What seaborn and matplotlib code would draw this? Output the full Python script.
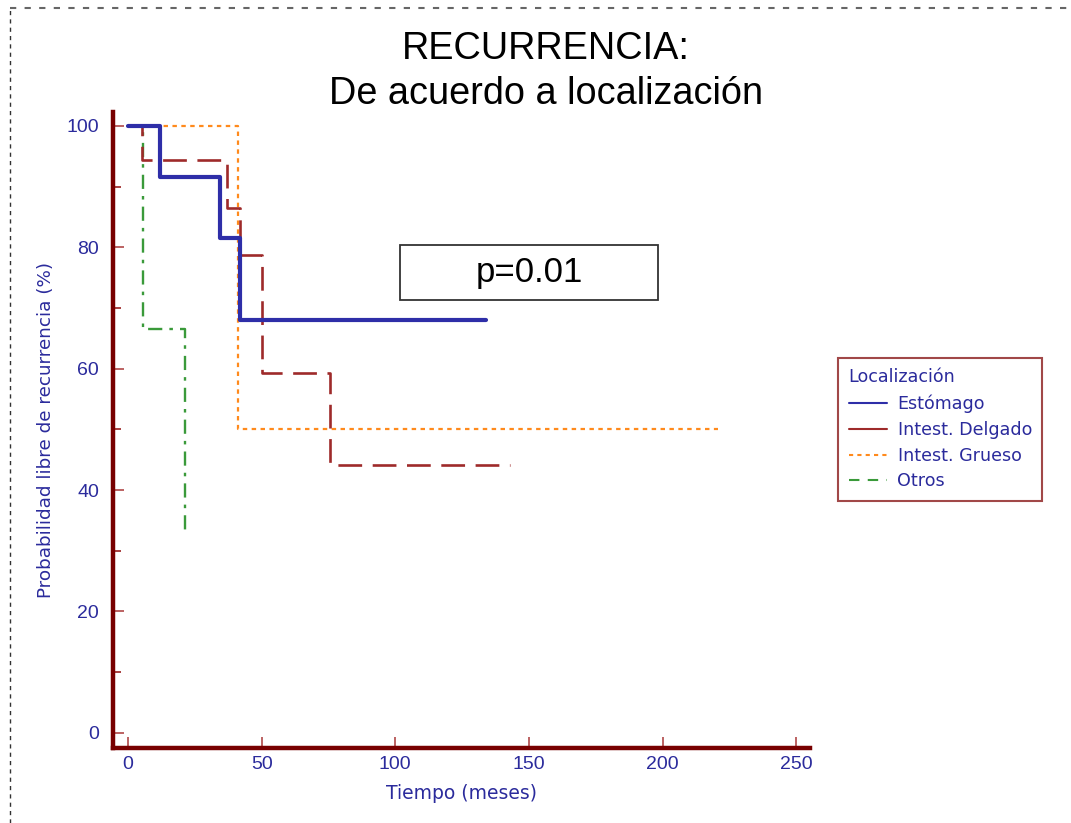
import numpy as np
import pandas as pd
import seaborn as sns
import matplotlib.pyplot as plt
from matplotlib.lines import Line2D
from matplotlib.patches import Rectangle
from matplotlib.ticker import MultipleLocator

# Datos (curvas de Kaplan-Meier, puntos de cambio)
estomago_t = [0, 12, 34.4, 42, 134]
estomago_s = [100, 91.5, 81.5, 68, 68]

delgado_t = [0, 5.2, 37, 42, 50, 75.5, 143]
delgado_s = [100, 94.4, 86.5, 78.7, 59.2, 44.2, 44.2]

grueso_t = [0, 41, 220.6]
grueso_s = [100, 50, 50]

otros_t = [0, 5.6, 21.3]
otros_s = [100, 66.5, 33.3]

grupos = ["Estómago", "Intest. Delgado", "Intest. Grueso", "Otros"]
x_ticks = [0, 50, 100, 150, 200, 250]
y_ticks = [0, 20, 40, 60, 80, 100]
p_valor = "p=0.01"

# Estilos
estilos = {
    "Estómago": dict(color="#2e2ea8", linestyle="-", linewidth=3.0),
    "Intest. Delgado": dict(color="#9e2a2a", linestyle=(0, (9, 4)), linewidth=1.9),
    "Intest. Grueso": dict(color="#ff8a1c", linestyle=(0, (2, 2)), linewidth=1.6),
    "Otros": dict(color="#3a9a3a", linestyle=(0, (6, 3, 1.5, 3)), linewidth=1.7),
}
leyenda_ls = {
    "Estómago": "-",
    "Intest. Delgado": "-",
    "Intest. Grueso": (0, (2, 2)),
    "Otros": (0, (5, 4)),
}

datos = {
    "Estómago": (estomago_t, estomago_s),
    "Intest. Delgado": (delgado_t, delgado_s),
    "Intest. Grueso": (grueso_t, grueso_s),
    "Otros": (otros_t, otros_s),
}

sns.set_style("white")
plt.rcParams['font.family'] = ['Liberation Sans', 'DejaVu Sans']

azul = "#2b2b9c"
rojo_eje = "#780000"

fig = plt.figure(figsize=(10.71, 8.23), dpi=100)
ax = fig.add_axes([0.1055, 0.0911, 0.6505, 0.773])

# Dibujar las curvas en orden
for nombre in ["Intest. Grueso", "Otros", "Intest. Delgado", "Estómago"]:
    t, s = datos[nombre]
    df = pd.DataFrame({"Tiempo": t, "Prob": s})
    st = estilos[nombre]
    sns.lineplot(data=df, x="Tiempo", y="Prob", ax=ax, estimator=None, sort=False,
                 drawstyle="steps-post", color=st["color"], linestyle=st["linestyle"],
                 linewidth=st["linewidth"])

ax.set_xlim(-5.6, 255)
ax.set_ylim(-2.5, 102.3)
ax.set_xticks(x_ticks)
ax.set_yticks(y_ticks)
ax.yaxis.set_minor_locator(MultipleLocator(10))

for lado in ["top", "right"]:
    ax.spines[lado].set_visible(False)
for lado in ["left", "bottom"]:
    ax.spines[lado].set_color(rojo_eje)
    ax.spines[lado].set_linewidth(3.2)

ax.tick_params(axis="both", which="both", bottom=True, left=True)
ax.tick_params(axis="both", which="major", direction="in", length=8, width=1.2,
               color="#b04848", labelcolor=azul, labelsize=14, pad=6)
ax.tick_params(axis="y", which="minor", direction="in", length=6, width=1.2,
               color="#9a2020")
ax.tick_params(axis="y", which="major", pad=10)

fuente_etq = ['DejaVu Sans']
ax.set_xlabel("Tiempo (meses)", color=azul, fontsize=13.5, labelpad=8, family=fuente_etq)
ax.set_ylabel("Probabilidad libre de recurrencia (%)", color=azul, fontsize=13.2,
              labelpad=8, family=fuente_etq)

# Título
fig.text(0.51, 0.940, "RECURRENCIA:", ha="center", va="center", fontsize=27.3, color="black")
fig.text(0.51, 0.886, "De acuerdo a localización", ha="center", va="center",
         fontsize=27.3, color="black")

# Cuadro del valor p
fig.patches.append(Rectangle((400 / 1071, 1 - 300 / 823), 258 / 1071, 55 / 823,
                             transform=fig.transFigure, fill=False,
                             edgecolor="#333333", linewidth=1.3))
fig.text(529 / 1071, 1 - 272 / 823, p_valor, ha="center", va="center", fontsize=25,
         color="black")

# Leyenda
handles = [Line2D([0], [0], color=estilos[g]["color"], linestyle=leyenda_ls[g], linewidth=1.5)
           for g in grupos]
leg = fig.legend(handles, grupos, title="Localización", loc="upper left",
                 bbox_to_anchor=(838 / 1071, 1 - 358 / 823), frameon=True, fancybox=False,
                 prop={"family": fuente_etq, "size": 12.6},
                 title_fontproperties={"family": fuente_etq, "size": 12.6},
                 handlelength=2.2, handletextpad=0.6, labelspacing=0.45,
                 borderpad=0.6, borderaxespad=0, alignment="left")
leg.get_frame().set_edgecolor("#8a1a1a")
leg.get_frame().set_linewidth(1.5)
for txt in leg.get_texts():
    txt.set_color(azul)
leg.get_title().set_color(azul)

# Borde punteado de la figura
fig.add_artist(Line2D([10 / 1071, 10 / 1071], [0, 1 - 8 / 823], transform=fig.transFigure,
                      color="#333333", linestyle=(0, (3, 3)), linewidth=1.0))
fig.add_artist(Line2D([10 / 1071, 1], [1 - 8 / 823, 1 - 8 / 823], transform=fig.transFigure,
                      color="#666666", linestyle=(0, (3, 4)), linewidth=1.5))

fig.savefig("out.png", dpi=100)
